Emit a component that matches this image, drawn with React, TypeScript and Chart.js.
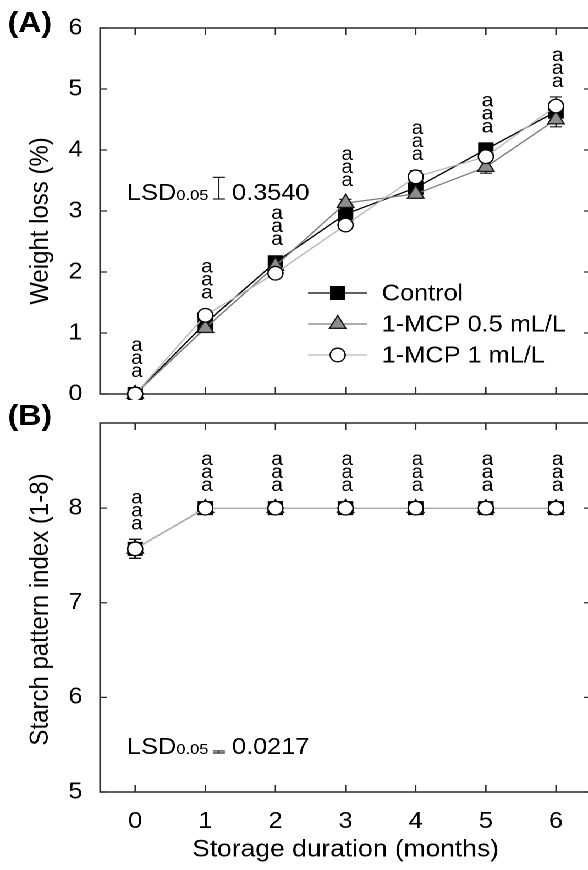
import React, { useEffect, useRef } from "react";
import { Chart, registerables } from "chart.js";

Chart.register(...registerables);

// ---------------- data ----------------
const months = [0, 1, 2, 3, 4, 5, 6];
const xTicks = [0, 1, 2, 3, 4, 5, 6];
const yTicksA = [0, 1, 2, 3, 4, 5, 6];
const yTicksB = [5, 6, 7, 8];

const seriesNames = ["Control", "1-MCP 0.5 mL/L", "1-MCP 1 mL/L"];

const weightControl = [0, 1.16, 2.16, 2.95, 3.38, 4.01, 4.63];
const weightMcp05 = [0, 1.08, 2.1, 3.13, 3.28, 3.72, 4.5];
const weightMcp1 = [0, 1.29, 1.98, 2.77, 3.56, 3.89, 4.72];
const weightErrControl = [0.01, 0.04, 0.05, 0.05, 0.06, 0.07, 0.08];
const weightErrMcp05 = [0.01, 0.04, 0.05, 0.06, 0.07, 0.1, 0.12];
const weightErrMcp1 = [0.01, 0.05, 0.04, 0.05, 0.1, 0.07, 0.15];
const weightLetters = [
  ["a", "a", "a"], ["a", "a", "a"], ["a", "a", "a"], ["a", "a", "a"],
  ["a", "a", "a"], ["a", "a", "a"], ["a", "a", "a"],
];

const starchControl = [7.57, 8, 8, 8, 8, 8, 8];
const starchMcp05 = [7.57, 8, 8, 8, 8, 8, 8];
const starchMcp1 = [7.57, 8, 8, 8, 8, 8, 8];
const starchErrControl = [0.1, 0, 0, 0, 0, 0, 0];
const starchErrMcp05 = [0.1, 0, 0, 0, 0, 0, 0];
const starchErrMcp1 = [0.1, 0, 0, 0, 0, 0, 0];
const starchLetters = [
  ["a", "a", "a"], ["a", "a", "a"], ["a", "a", "a"], ["a", "a", "a"],
  ["a", "a", "a"], ["a", "a", "a"], ["a", "a", "a"],
];

const lsdWeight = 0.354;
const lsdWeightText = "0.3540";
const lsdStarch = 0.0217;
const lsdStarchText = "0.0217";

// ---------------- styles ----------------
const STRETCH = 1.1; // the reference figure is horizontally stretched
const CANVAS_W = 545;
const TOP_H = 400;
const BOTTOM_H = 470;
const AREA_LEFT = 91;
const AREA_RIGHT = 537.3;
const FONT = "'Liberation Sans', Arial, Helvetica, sans-serif";
const FRAME = "#2b2b2b";

const lineColors = ["#000000", "#7c7c7c", "#b8b8b8"];
const pointStyles = ["rect", "triangle", "circle"];
const pointRadii = [9, 8.6, 6.8];
const pointFills = ["#000000", "#8c8c8c", "#ffffff"];
const pointEdges = ["#000000", "#1a1a1a", "#000000"];

type PanelCfg = {
  series: number[][];
  errors: number[][];
  letters: string[][];
  yTicks: number[];
  yMin: number;
  yMax: number;
  lsd: number;
  lsdText: string;
  lsdBase: (ca: any) => number;
  yTitle: string;
  yTitleShift: number;
  panelLabel: string;
  panelLabelY: number;
  legend: boolean;
  xTitle: string | null;
  padTop: number;
  padBottom: number;
  xHeight: number;
  height: number;
};

function drawMarker(ctx: CanvasRenderingContext2D, i: number, x: number, y: number) {
  const r = pointRadii[i];
  ctx.beginPath();
  if (pointStyles[i] === "rect") {
    const s = Math.SQRT1_2 * r;
    ctx.rect(x - s, y - s, 2 * s, 2 * s);
  } else if (pointStyles[i] === "triangle") {
    let rad = 0;
    ctx.moveTo(x + Math.sin(rad) * r, y - Math.cos(rad) * r);
    rad += (2 * Math.PI) / 3;
    ctx.lineTo(x + Math.sin(rad) * r, y - Math.cos(rad) * r);
    rad += (2 * Math.PI) / 3;
    ctx.lineTo(x + Math.sin(rad) * r, y - Math.cos(rad) * r);
    ctx.closePath();
  } else {
    ctx.arc(x, y, r, 0, Math.PI * 2);
  }
  ctx.fillStyle = pointFills[i];
  ctx.fill();
  ctx.lineWidth = 1.3;
  ctx.strokeStyle = pointEdges[i];
  ctx.stroke();
}

function makeDecor(cfg: PanelCfg) {
  return {
    id: "decor",
    beforeDatasetsDraw(chart: any) {
      const { ctx, chartArea: ca, scales } = chart;
      const xs = scales.x;
      const ys = scales.y;
      ctx.save();
      ctx.strokeStyle = FRAME;
      ctx.lineWidth = 1.5;
      ctx.strokeRect(ca.left, ca.top, ca.right - ca.left, ca.bottom - ca.top);
      ctx.beginPath();
      for (const v of xTicks) {
        const px = xs.getPixelForValue(v);
        ctx.moveTo(px, ca.top);
        ctx.lineTo(px, ca.top + 7);
        ctx.moveTo(px, ca.bottom);
        ctx.lineTo(px, ca.bottom - 7);
      }
      for (const v of cfg.yTicks) {
        const py = ys.getPixelForValue(v);
        ctx.moveTo(ca.left, py);
        ctx.lineTo(ca.left + 6.4, py);
        ctx.moveTo(ca.right, py);
        ctx.lineTo(ca.right - 6.4, py);
      }
      ctx.lineWidth = 1.3;
      ctx.stroke();
      // error bars
      cfg.series.forEach((vals, i) => {
        vals.forEach((v, j) => {
          const e = cfg.errors[i][j];
          if (!e) return;
          const px = xs.getPixelForValue(months[j]);
          const y1 = ys.getPixelForValue(v + e);
          const y2 = ys.getPixelForValue(v - e);
          ctx.beginPath();
          ctx.moveTo(px, y1);
          ctx.lineTo(px, y2);
          ctx.moveTo(px - 5.5, y1);
          ctx.lineTo(px + 5.5, y1);
          ctx.moveTo(px - 5.5, y2);
          ctx.lineTo(px + 5.5, y2);
          ctx.strokeStyle = "#111";
          ctx.lineWidth = 1.2;
          ctx.stroke();
        });
      });
      ctx.restore();
    },
    afterDraw(chart: any) {
      const { ctx, chartArea: ca, scales } = chart;
      const xs = scales.x;
      const ys = scales.y;
      ctx.save();
      ctx.fillStyle = "#000";

      // significance letters
      ctx.font = `19px ${FONT}`;
      ctx.textAlign = "center";
      ctx.textBaseline = "alphabetic";
      months.forEach((m, j) => {
        let top = Infinity;
        cfg.series.forEach((vals, i) => {
          const e = cfg.errors[i][j];
          top = Math.min(top, ys.getPixelForValue(vals[j] + e), ys.getPixelForValue(vals[j]) - 7);
        });
        const px = xs.getPixelForValue(m) + 1.5;
        cfg.letters[j].forEach((L, k) => ctx.fillText(L, px, top - 10 - k * 13));
      });

      // LSD annotation
      const base = cfg.lsdBase(ca);
      let x = ca.left + 24.5;
      ctx.textAlign = "left";
      ctx.font = `23px ${FONT}`;
      ctx.fillText("LSD", x, base);
      x += ctx.measureText("LSD").width;
      ctx.font = `15px ${FONT}`;
      ctx.fillText("0.05", x, base);
      x += ctx.measureText("0.05").width;
      const barX = x + 9.5;
      const h = ys.getPixelForValue(cfg.yMin) - ys.getPixelForValue(cfg.yMin + cfg.lsd);
      const yb = base - 1;
      const yt = yb - h;
      ctx.beginPath();
      ctx.moveTo(barX, yb);
      ctx.lineTo(barX, yt);
      ctx.moveTo(barX - 5.5, yb);
      ctx.lineTo(barX + 5.5, yb);
      ctx.moveTo(barX - 5.5, yt);
      ctx.lineTo(barX + 5.5, yt);
      ctx.strokeStyle = "#222";
      ctx.lineWidth = 1.2;
      ctx.stroke();
      ctx.font = `23px ${FONT}`;
      ctx.fillText(cfg.lsdText, barX + 12, base);

      // legend
      if (cfg.legend) {
        const rows = [265, 296, 327];
        seriesNames.forEach((name, i) => {
          const y = ca.top + rows[i];
          ctx.beginPath();
          ctx.moveTo(280, y);
          ctx.lineTo(334, y);
          ctx.strokeStyle = lineColors[i];
          ctx.lineWidth = 1.3;
          ctx.stroke();
          drawMarker(ctx, i, 307, y);
          ctx.fillStyle = "#000";
          ctx.font = `23px ${FONT}`;
          ctx.textAlign = "left";
          ctx.textBaseline = "middle";
          ctx.fillText(name, 347, y + 1);
        });
      }

      // y title
      ctx.save();
      ctx.translate(37, (ca.top + ca.bottom) / 2 + cfg.yTitleShift);
      ctx.rotate(-Math.PI / 2);
      ctx.font = `24px ${FONT}`;
      ctx.textAlign = "center";
      ctx.textBaseline = "middle";
      ctx.fillStyle = "#000";
      ctx.fillText(cfg.yTitle, 0, 0);
      ctx.restore();

      // x title
      if (cfg.xTitle) {
        ctx.font = `24px ${FONT}`;
        ctx.textAlign = "center";
        ctx.textBaseline = "middle";
        ctx.fillText(cfg.xTitle, (ca.left + ca.right) / 2, ca.bottom + 58);
      }

      // panel label
      ctx.font = `bold 29px ${FONT}`;
      ctx.textAlign = "left";
      ctx.textBaseline = "middle";
      ctx.fillText(cfg.panelLabel, 7, cfg.panelLabelY);
      ctx.restore();
    },
  };
}

function buildChart(canvas: HTMLCanvasElement, cfg: PanelCfg) {
  const tickFont = { family: FONT, size: 23 };
  return new Chart(canvas, {
    type: "line",
    data: {
      datasets: cfg.series.map((vals, i) => ({
        label: seriesNames[i],
        data: months.map((m, j) => ({ x: m, y: vals[j] })),
        order: cfg.series.length - 1 - i,
        borderColor: lineColors[i],
        borderWidth: 1.3,
        pointStyle: pointStyles[i] as any,
        pointRadius: pointRadii[i],
        pointBackgroundColor: pointFills[i],
        pointBorderColor: pointEdges[i],
        pointBorderWidth: 1.3,
        tension: 0,
        clip: false as any,
      })),
    },
    options: {
      animation: false,
      responsive: false,
      devicePixelRatio: 2,
      events: [],
      layout: {
        autoPadding: false,
        padding: { top: cfg.padTop, right: CANVAS_W - AREA_RIGHT, left: 0, bottom: cfg.padBottom },
      },
      plugins: { legend: { display: false }, tooltip: { enabled: false } },
      scales: {
        x: {
          type: "linear",
          display: !!cfg.xTitle,
          min: -0.5,
          max: 6.5,
          grid: { display: false },
          border: { display: false },
          afterBuildTicks: (s: any) => {
            s.ticks = xTicks.map((v) => ({ value: v }));
          },
          ticks: { font: tickFont, color: "#000", padding: 8, maxRotation: 0 },
          afterFit: (s: any) => {
            s.height = cfg.xHeight;
            s.paddingLeft = 0;
            s.paddingRight = 0;
          },
        },
        y: {
          type: "linear",
          min: cfg.yMin,
          max: cfg.yMax,
          grid: { display: false },
          border: { display: false },
          afterBuildTicks: (s: any) => {
            s.ticks = cfg.yTicks.map((v) => ({ value: v }));
          },
          ticks: { font: tickFont, color: "#000", padding: 8 },
          afterFit: (s: any) => {
            s.width = AREA_LEFT;
            s.paddingTop = 0;
            s.paddingBottom = 0;
          },
        },
      },
    } as any,
    plugins: [makeDecor(cfg)],
  });
}

const panelA: PanelCfg = {
  series: [weightControl, weightMcp05, weightMcp1],
  errors: [weightErrControl, weightErrMcp05, weightErrMcp1],
  letters: weightLetters,
  yTicks: yTicksA,
  yMin: 0,
  yMax: 6,
  lsd: lsdWeight,
  lsdText: lsdWeightText,
  lsdBase: (ca: any) => ca.top + 172,
  yTitle: "Weight loss (%)",
  yTitleShift: 10,
  panelLabel: "(A)",
  panelLabelY: 24,
  legend: true,
  xTitle: null,
  padTop: 28,
  padBottom: 6,
  xHeight: 0,
  height: TOP_H,
};

const panelB: PanelCfg = {
  series: [starchControl, starchMcp05, starchMcp1],
  errors: [starchErrControl, starchErrMcp05, starchErrMcp1],
  letters: starchLetters,
  yTicks: yTicksB,
  yMin: 5,
  yMax: 8.9,
  lsd: lsdStarch,
  lsdText: lsdStarchText,
  lsdBase: (ca: any) => ca.bottom - 38,
  yTitle: "Starch pattern index (1-8)",
  yTitleShift: 2,
  panelLabel: "(B)",
  panelLabelY: 17,
  legend: false,
  xTitle: "Storage duration (months)",
  padTop: 23,
  padBottom: 0,
  xHeight: 78,
  height: BOTTOM_H,
};

function Panel({ cfg, top }: { cfg: PanelCfg; top: number }) {
  const ref = useRef<HTMLCanvasElement | null>(null);
  useEffect(() => {
    if (!ref.current) return;
    const chart = buildChart(ref.current, cfg);
    return () => chart.destroy();
  }, [cfg]);
  return (
    <div style={{ position: "absolute", left: 0, top, width: CANVAS_W, height: cfg.height }}>
      <canvas
        ref={ref}
        width={CANVAS_W}
        height={cfg.height}
        style={{ width: CANVAS_W, height: cfg.height, display: "block" }}
      />
    </div>
  );
}

export default function App() {
  return (
    <div
      style={{
        position: "absolute",
        left: 0,
        top: 0,
        width: 588,
        height: 870,
        overflow: "hidden",
        background: "#fff",
      }}
    >
      <div
        style={{
          position: "relative",
          width: CANVAS_W,
          height: 870,
          transform: `scaleX(${STRETCH})`,
          transformOrigin: "0 0",
        }}
      >
        <Panel cfg={panelA} top={0} />
        <Panel cfg={panelB} top={TOP_H} />
      </div>
    </div>
  );
}
